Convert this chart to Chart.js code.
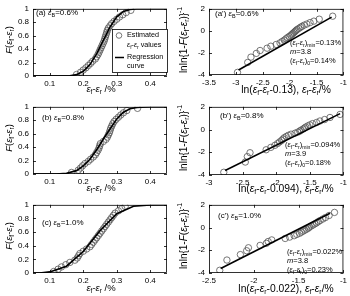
<!DOCTYPE html>
<html>
<head>
<meta charset="utf-8">
<script src="https://cdn.jsdelivr.net/npm/chart.js@4.4.1/dist/chart.umd.min.js"></script>
<style>
  body { margin: 0; background: #fff; width: 350px; height: 296px; position: relative; overflow: hidden; }
  canvas { position: absolute; }
</style>
</head>
<body>
<canvas id="pa" width="175" height="98" style="left:0;top:0"></canvas>
<canvas id="pa2" width="175" height="98" style="left:175px;top:0"></canvas>
<canvas id="pb" width="175" height="98" style="left:0;top:98px"></canvas>
<canvas id="pb2" width="175" height="98" style="left:175px;top:98px"></canvas>
<canvas id="pc" width="175" height="100" style="left:0;top:196px"></canvas>
<canvas id="pc2" width="175" height="100" style="left:175px;top:196px"></canvas>
<script>
// === Data ===

// median ranks F(ef-er) of the 30 specimens, shared by all panels
const rankF = [0.023, 0.056, 0.089, 0.122, 0.155, 0.188, 0.220, 0.253, 0.286, 0.319,
  0.352, 0.385, 0.418, 0.451, 0.484, 0.516, 0.549, 0.582, 0.615, 0.648,
  0.681, 0.714, 0.747, 0.780, 0.813, 0.845, 0.878, 0.911, 0.944, 0.977];
// lnln{1-F}^-1 of the same ranks
const rankY = [-3.76, -2.86, -2.38, -2.04, -1.78, -1.57, -1.39, -1.23, -1.09, -0.96,
  -0.84, -0.72, -0.61, -0.51, -0.41, -0.32, -0.23, -0.14, -0.05, 0.04,
  0.13, 0.22, 0.32, 0.41, 0.52, 0.62, 0.75, 0.88, 1.06, 1.33];

// (a) eB = 0.6%
const aX = [0.180, 0.192, 0.200, 0.208, 0.215, 0.222, 0.228, 0.236, 0.240, 0.244,
  0.247, 0.250, 0.253, 0.256, 0.259, 0.262, 0.264, 0.266, 0.268, 0.270,
  0.272, 0.275, 0.280, 0.285, 0.292, 0.300, 0.308, 0.318, 0.328, 0.342];
const aCurveX = [0.05, 0.14, 0.16, 0.18, 0.20, 0.22, 0.24, 0.26, 0.28, 0.30, 0.32, 0.34, 0.36, 0.45];
const aCurveF = [0, 0, 0.002, 0.02, 0.07, 0.17, 0.33, 0.53, 0.73, 0.88, 0.96, 0.99, 1.0, 1.0];
// (a') ln(ef-er-0.13)
const a2X = [-2.97, -2.78, -2.72, -2.62, -2.55, -2.42, -2.35, -2.25, -2.18, -2.14,
  -2.10, -2.07, -2.04, -2.01, -1.98, -1.96, -1.94, -1.92, -1.90, -1.88,
  -1.86, -1.83, -1.80, -1.77, -1.73, -1.68, -1.62, -1.55, -1.45, -1.20];
const a2LineX = [-2.95, -1.22];
const a2LineY = [-3.55, 1.25];

// (b) eB = 0.8%
const bX = [0.165, 0.185, 0.192, 0.198, 0.205, 0.215, 0.222, 0.230, 0.236, 0.240,
  0.244, 0.247, 0.249, 0.251, 0.260, 0.268, 0.272, 0.275, 0.278, 0.280,
  0.282, 0.285, 0.288, 0.292, 0.298, 0.305, 0.312, 0.320, 0.330, 0.362];
const bCurveX = [0.05, 0.10, 0.12, 0.15, 0.18, 0.20, 0.22, 0.24, 0.26, 0.28, 0.30, 0.32, 0.34, 0.36, 0.40, 0.45];
const bCurveF = [0, 0, 0.001, 0.01, 0.05, 0.12, 0.22, 0.36, 0.52, 0.67, 0.82, 0.92, 0.97, 0.99, 1.0, 1.0];
// (b') ln(ef-er-0.094)
const b2X = [-2.78, -2.46, -2.43, -2.39, -2.15, -2.08, -2.02, -1.98, -1.95, -1.92,
  -1.90, -1.88, -1.85, -1.82, -1.78, -1.72, -1.68, -1.65, -1.63, -1.60,
  -1.58, -1.56, -1.53, -1.50, -1.46, -1.40, -1.35, -1.28, -1.20, -1.05];
const b2LineX = [-2.76, -1.05];
const b2LineY = [-3.6, 1.4];

// (c) eB = 1.0%
const cX = [0.112, 0.125, 0.135, 0.148, 0.160, 0.175, 0.182, 0.186, 0.190, 0.200,
  0.210, 0.220, 0.225, 0.230, 0.235, 0.240, 0.245, 0.250, 0.255, 0.260,
  0.265, 0.270, 0.275, 0.280, 0.285, 0.290, 0.295, 0.305, 0.315, 0.325];
const cCurveX = [0.05, 0.07, 0.10, 0.15, 0.20, 0.25, 0.30, 0.35, 0.40, 0.45];
const cCurveF = [0, 0.001, 0.016, 0.10, 0.315, 0.62, 0.87, 0.979, 0.999, 1.0];
// (c') ln(ef-er-0.022)
const c2X = [-2.38, -2.30, -2.15, -2.08, -2.06, -1.93, -1.86, -1.84, -1.80, -1.65,
  -1.60, -1.55, -1.52, -1.49, -1.47, -1.45, -1.43, -1.41, -1.39, -1.38,
  -1.36, -1.34, -1.32, -1.30, -1.28, -1.26, -1.23, -1.20, -1.16, -1.10];
const c2LineX = [-2.37, -1.15];
const c2LineY = [-3.6, 1.25];

// tick labels
const leftXTicks = [0.1, 0.2, 0.3, 0.4];
const leftYTicks = [0, 0.2, 0.4, 0.6, 0.8, 1];
const a2XTicks = [-3.5, -3, -2.5, -2, -1.5, -1];
const b2XTicks = [-3, -2.5, -2, -1.5, -1];
const c2XTicks = [-2.5, -2, -1.5, -1];
const rightYTicks = [-4, -3, -2, -1, 0, 1, 2];

// === Drawing helpers ===

const FONT = '"Liberation Sans", Arial, sans-serif';

// tiny markup: _{sub}, ^{sup}, *italic*
function parseRich(str) {
  const segs = [];
  let buf = "", italic = false, i = 0;
  const push = (t, mode) => { if (t) segs.push({ t, mode, italic }); };
  while (i < str.length) {
    const c = str[i];
    if (c === "*") { push(buf, ""); buf = ""; italic = !italic; i++; }
    else if ((c === "_" || c === "^") && str[i + 1] === "{") {
      push(buf, ""); buf = "";
      const end = str.indexOf("}", i);
      push(str.slice(i + 2, end), c === "_" ? "sub" : "sup");
      i = end + 1;
    } else { buf += c; i++; }
  }
  push(buf, "");
  return segs;
}

function drawRich(ctx, str, x, y, size, align = "left", rot = 0) {
  const segs = parseRich(str);
  const fontOf = s => `${s.italic ? "italic " : ""}${s.mode ? size * 0.68 : size}px ${FONT}`;
  let w = 0;
  segs.forEach(s => { ctx.font = fontOf(s); s.w = ctx.measureText(s.t).width; w += s.w; });
  ctx.save();
  ctx.translate(x, y);
  if (rot) ctx.rotate(rot);
  ctx.textBaseline = "middle";
  ctx.textAlign = "left";
  ctx.fillStyle = "#000";
  let cx = align === "center" ? -w / 2 : align === "right" ? -w : 0;
  segs.forEach(s => {
    ctx.font = fontOf(s);
    const dy = s.mode === "sub" ? size * 0.32 : s.mode === "sup" ? -size * 0.38 : 0;
    ctx.fillText(s.t, cx, dy);
    cx += s.w;
  });
  ctx.restore();
}

// box round the plot area, with inward ticks on all four sides
const frame = {
  id: "frame",
  afterDatasetsDraw(chart) {
    const { ctx, chartArea: a, scales } = chart;
    ctx.save();
    ctx.strokeStyle = "#000";
    ctx.lineWidth = 0.8;
    ctx.strokeRect(a.left + 0.5, a.top + 0.5, a.right - a.left - 1, a.bottom - a.top - 1);
    ctx.beginPath();
    scales.x.ticks.forEach(t => {
      const px = Math.round(scales.x.getPixelForValue(t.value)) + 0.5;
      ctx.moveTo(px, a.bottom); ctx.lineTo(px, a.bottom - 3);
      ctx.moveTo(px, a.top); ctx.lineTo(px, a.top + 3);
    });
    scales.y.ticks.forEach(t => {
      const py = Math.round(scales.y.getPixelForValue(t.value)) + 0.5;
      ctx.moveTo(a.left, py); ctx.lineTo(a.left + 3, py);
      ctx.moveTo(a.right, py); ctx.lineTo(a.right - 3, py);
    });
    ctx.stroke();
    ctx.restore();
  },
};

// free texts and the inset legend
const notes = {
  id: "notes",
  afterDraw(chart, args, opts) {
    const ctx = chart.ctx;
    (opts.texts || []).forEach(t => drawRich(ctx, t.s, t.x, t.y, t.size, t.align, t.rot));
    if (opts.legend) {
      const L = opts.legend;
      ctx.save();
      ctx.fillStyle = "#fff";
      ctx.fillRect(L.x, L.y, L.w, L.h);
      ctx.strokeStyle = "#000";
      ctx.lineWidth = 0.8;
      ctx.strokeRect(L.x + 0.5, L.y + 0.5, L.w, L.h);
      ctx.strokeStyle = "#555";
      ctx.beginPath();
      ctx.arc(L.x + 7, L.y + 6.5, 2.8, 0, Math.PI * 2);
      ctx.stroke();
      ctx.strokeStyle = "#000";
      ctx.lineWidth = 1.5;
      ctx.beginPath();
      ctx.moveTo(L.x + 3, L.y + 28.5); ctx.lineTo(L.x + 12, L.y + 28.5);
      ctx.stroke();
      ctx.restore();
      drawRich(ctx, "Estimated", L.x + 15, L.y + 6.5, 7.2);
      drawRich(ctx, "*ε*_{f}-*ε*_{r} values", L.x + 15, L.y + 16, 7.2);
      drawRich(ctx, "Regression", L.x + 15, L.y + 28.5, 7.2);
      drawRich(ctx, "curve", L.x + 15, L.y + 37.5, 7.2);
    }
  },
};

function pts(xs, ys) { return xs.map((x, i) => ({ x, y: ys[i] })); }

function panel(id, cfg) {
  const tickFont = { family: FONT, size: 8 };
  new Chart(document.getElementById(id), {
    type: "scatter",
    data: {
      datasets: [
        {
          data: pts(cfg.lineX, cfg.lineY), showLine: true, borderColor: "#000",
          borderWidth: 1.6, pointRadius: 0, tension: 0,
        },
        {
          data: pts(cfg.pX, cfg.pY), pointRadius: 3.2, pointBorderWidth: 0.8,
          pointBorderColor: "#555", pointBackgroundColor: "rgba(0,0,0,0)",
        },
      ],
    },
    options: {
      responsive: false,
      animation: false,
      events: [],
      layout: { padding: { top: cfg.top, right: cfg.right, left: 0, bottom: 0 } },
      plugins: { legend: { display: false }, tooltip: { enabled: false }, notes: cfg.notes },
      scales: {
        x: {
          type: "linear", min: cfg.xMin, max: cfg.xMax,
          afterBuildTicks: s => { s.ticks = cfg.xTicks.map(v => ({ value: v })); },
          afterFit: s => { s.height = cfg.xH; },
          grid: { display: false, drawTicks: false }, border: { display: false },
          ticks: { font: tickFont, color: "#000", padding: 3, maxRotation: 0, callback: v => String(v) },
        },
        y: {
          type: "linear", min: cfg.yMin, max: cfg.yMax,
          afterBuildTicks: s => { s.ticks = cfg.yTicks.map(v => ({ value: v })); },
          afterFit: s => { s.width = cfg.yW; },
          grid: { display: false, drawTicks: false }, border: { display: false },
          ticks: { font: tickFont, color: "#000", padding: 4, callback: v => String(v) },
        },
      },
    },
    plugins: [frame, notes],
  });
}

const R90 = -Math.PI / 2;
const leftBase = { xMin: 0.05, xMax: 0.45, yMin: 0, yMax: 1, xTicks: leftXTicks, yTicks: leftYTicks, yW: 33, right: 8 };
const rightBase = { yMin: -4, yMax: 2, yTicks: rightYTicks, yW: 34, right: 6 };
const fTitle = { s: "*F*(*ε*_{f}-*ε*_{r})", x: 9, y: 40, size: 9.5, align: "center", rot: R90 };
const lnTitle = { s: "lnln{1-*F*(*ε*_{f}-*ε*_{r})}^{-1}", x: 9, y: 40, size: 10, align: "center", rot: R90 };
const xTitleL = y => ({ s: "*ε*_{f}-*ε*_{r} /%", x: 101, y, size: 9.5, align: "center" });
const xTitleR = (c, y) => ({ s: `ln(*ε*_{f}-*ε*_{r}-${c}), *ε*_{f}-*ε*_{r}/%`, x: 111, y, size: 10.3, align: "center" });
const ann = (lines, x, y) => [
  { s: `(*ε*_{f}-*ε*_{r})_{min}=${lines[0]}%`, x, y, size: 7.5 },
  { s: `*m*=${lines[1]}`, x: x, y: y + 9, size: 7.5 },
  { s: `(*ε*_{f}-*ε*_{r})_{0}=${lines[2]}%`, x, y: y + 18, size: 7.5 },
];

panel("pa", { ...leftBase, top: 5, xH: 22, pX: aX, pY: rankF, lineX: aCurveX, lineY: aCurveF,
  notes: { texts: [fTitle, xTitleL(89), { s: "(a) *ε*_{B}=0.6%", x: 36, y: 13, size: 8 }],
    legend: { x: 112, y: 29, w: 55, h: 43 } } });
panel("pb", { ...leftBase, top: 5, xH: 22, pX: bX, pY: rankF, lineX: bCurveX, lineY: bCurveF,
  notes: { texts: [fTitle, xTitleL(90), { s: "(b) *ε*_{B}=0.8%", x: 42, y: 20, size: 8 }] } });
panel("pc", { ...leftBase, top: 6, xH: 23, pX: cX, pY: rankF, lineX: cCurveX, lineY: cCurveF,
  notes: { texts: [fTitle, xTitleL(92), { s: "(c) *ε*_{B}=1.0%", x: 42, y: 27, size: 8 }] } });

panel("pa2", { ...rightBase, xMin: -3.5, xMax: -1, xTicks: a2XTicks, top: 5, xH: 23,
  pX: a2X, pY: rankY, lineX: a2LineX, lineY: a2LineY,
  notes: { texts: [lnTitle, xTitleR("0.13", 90), { s: "(a') *ε*_{B}=0.6%", x: 40, y: 14, size: 8 },
    ...ann(["0.13", "3.8", "0.14"], 115, 43)] } });
panel("pb2", { ...rightBase, xMin: -3, xMax: -1, xTicks: b2XTicks, top: 4, xH: 21,
  pX: b2X, pY: rankY, lineX: b2LineX, lineY: b2LineY,
  notes: { texts: [lnTitle, xTitleR("0.094", 91), { s: "(b') *ε*_{B}=0.8%", x: 45, y: 18, size: 8 },
    ...ann(["0.094", "3.9", "0.18"], 110, 47)] } });
panel("pc2", { ...rightBase, xMin: -2.5, xMax: -1, xTicks: c2XTicks, top: 6, xH: 23,
  pX: c2X, pY: rankY, lineX: c2LineX, lineY: c2LineY,
  notes: { texts: [lnTitle, xTitleR("0.022", 93), { s: "(c') *ε*_{B}=1.0%", x: 43, y: 20, size: 8 },
    ...ann(["0.022", "3.8", "0.23"], 112, 56)] } });
</script>
</body>
</html>
